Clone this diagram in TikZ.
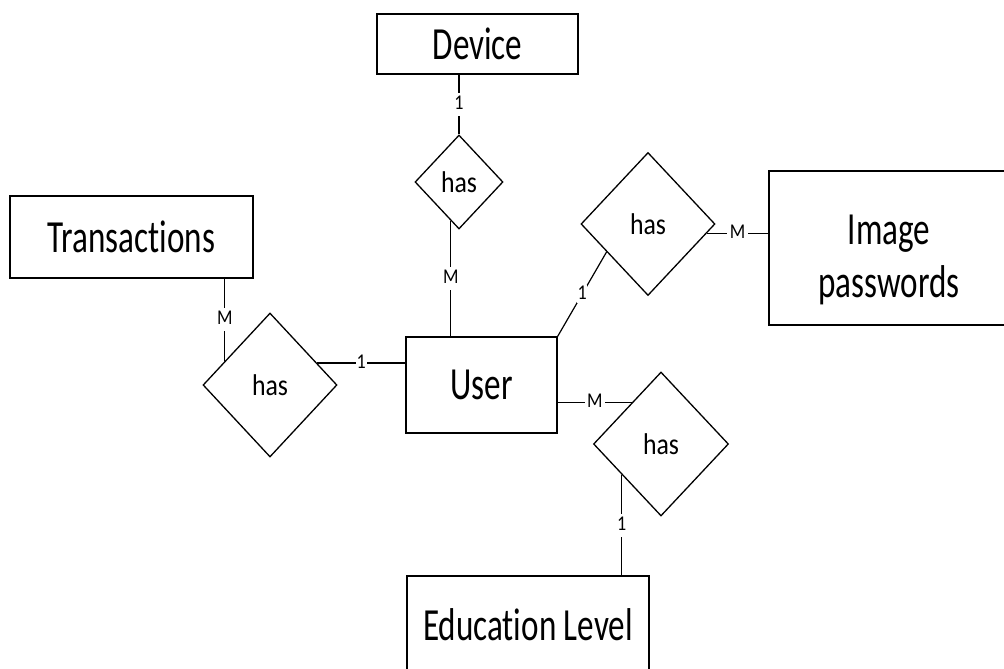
\documentclass[tikz,border=0pt]{standalone}
\usepackage{fontspec}
\setmainfont{Carlito}[Ligatures=NoCommon]
\newfontfamily\entfont{Carlito}[FakeStretch=0.72, Ligatures=NoCommon]
\newfontfamily\relfont{Carlito}[FakeStretch=0.86, Ligatures=NoCommon]
\usetikzlibrary{shapes.geometric}
\begin{document}
\begin{tikzpicture}[x=1pt,y=-1pt,
  entity/.style={draw, line width=1.4pt, rectangle, inner sep=0pt, align=center,
                 font=\entfont\fontsize{46}{53}\selectfont},
  rel/.style={draw, line width=1.3pt, diamond, inner sep=0pt,
              font=\relfont\fontsize{30}{34}\selectfont},
  link/.style={line width=1.2pt},
  card/.style={fill=white, inner xsep=2.5pt, inner ysep=2.5pt, text height=14pt,
               text depth=4pt, font=\relfont\fontsize{21}{24}\selectfont}]
  \fill[white] (0,0) rectangle (1004,669);
  \clip (0,0) rectangle (1004,669);

  % entities
  \node[entity, minimum width=201pt, minimum height=60pt]  (dev)   at (477.5,44)  {Device};
  \node[entity, minimum width=243pt, minimum height=82pt]  (trans) at (131.5,237) {Transactions};
  \node[entity, minimum width=151pt, minimum height=96pt]  (user)  at (481.5,385) {User};
  \node[entity, minimum width=240pt, minimum height=154pt] (img)   at (889,248)
       {\rule{0pt}{54pt}Image\\passwords};
  \node[entity, minimum width=242pt, minimum height=98pt]  (edu)   at (528,625)   {Education Level};

  % relationships
  \node[rel, minimum width=88pt,  minimum height=94pt]  (d1) at (459,182) {has};
  \node[rel, minimum width=134pt, minimum height=144pt] (d2) at (270,385) {has};
  \node[rel, minimum width=134pt, minimum height=143pt] (d3) at (648,224) {has};
  \node[rel, minimum width=135pt, minimum height=144pt] (d4) at (661,444) {has};

  % connectors with cardinalities
  \draw[link] (d1.north) -- node[card]{1} (d1.north |- dev.south);
  \draw[link] (d1.258) -- node[card]{M} (d1.258 |- user.north);
  \draw[link] (d2.152) -- node[card]{M} (d2.152 |- trans.south);
  \draw[link] (d2.25) -- node[card, inner xsep=1pt]{1} (d2.25 -| user.west);
  \draw[link] (user.north east) -- node[card, inner xsep=0.5pt, inner ysep=0pt]{1} (d3.214);
  \draw[link] (d3.-9) -- node[card]{M} (d3.-9 -| img.west);
  \draw[link] (d4.125) -- node[card]{M} (d4.125 -| user.east);
  \draw[link] (d4.218) -- node[card]{1} (d4.218 |- edu.north);
\end{tikzpicture}
\end{document}
